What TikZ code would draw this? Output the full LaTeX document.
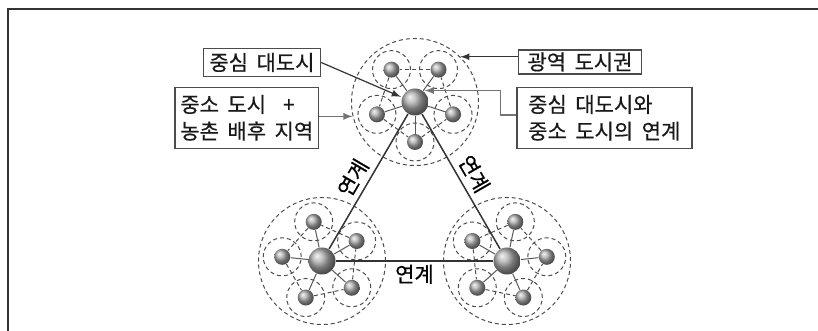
\documentclass[tikz,border=0pt]{standalone}
\usepackage{fontspec}
\setmainfont{Noto Sans CJK KR}[WordSpace=1.8, FakeBold=0.6]
\usetikzlibrary{arrows,calc,shadings}
\tikzstyle{notebox} = [rectangle, draw=black!70, line width=0.7pt, text=black!90, inner sep=1pt, align=left]
\tikzstyle{hub} = [circle, minimum size=13.5pt, inner sep=0pt, shading=ball, ball color=gray!65]
\tikzstyle{town} = [circle, minimum size=8pt, inner sep=0pt, shading=ball, ball color=gray!65]
\tikzstyle{zone} = [dash pattern=on 2pt off 1.5pt, line width=0.5pt, draw=black!70]
\tikzstyle{spoke} = [line width=0.5pt, draw=black!65]
\tikzstyle{link} = [line width=0.75pt, draw=black!80]

% one metropolitan region: hub, five towns, their zones
\newcommand{\metroregion}[4]{%
  \node[hub] (#1) at (#2,#3) {};
  \draw[zone] (#1) circle (63.5);
  \foreach \k in {1,...,5} {
    \node[town] (#1\k) at ($(#1)+(#4+72*\k:40)$) {};
    \draw[zone] (#1\k) circle (19);
  }
  \foreach \k in {1,...,5} {
    \pgfmathtruncatemacro\nxt{mod(\k,5)+1}
    \draw[zone] (#1\k) -- (#1\nxt);
    \draw[spoke] (#1) -- (#1\k);
  }
}

\begin{document}
\begin{tikzpicture}[x=0.5pt,y=0.5pt,font=\fontsize{10.5}{13.35}\selectfont]
    \useasboundingbox (0,0) rectangle (818,331);
    \clip (0,0) rectangle (818,331);
    \draw[line width=1pt, black!80] (8,322) rectangle (840,-20);

    \metroregion{T}{415}{229}{-18}
    \metroregion{L}{322}{70}{-42}
    \metroregion{R}{507}{70}{-66}

    \draw[link] (L) -- node[sloped, above, inner sep=2.5pt, pos=0.47] {연계} (T);
    \draw[link] (T) -- node[sloped, above, inner sep=2.5pt, pos=0.5] {연계} (R);
    \draw[link] (L) -- node[below, inner sep=1.5pt] {연계} (R);

    \node[notebox, minimum width=58.5pt, minimum height=14.2pt] (hubbox) at (262,268.5) {중심 대도시};
    \node[notebox, minimum width=61.5pt, minimum height=12pt] (metrobox) at (580,269) {광역 도시권};
    \node[notebox, minimum width=71.8pt, minimum height=30.5pt] (townbox) at (246.8,213.2) {중소 도시 \ +\\농촌 배후 지역};
    \node[notebox, minimum width=87.5pt, minimum height=30.5pt] (linkbox) at (604.3,213.2) {중심 대도시와\\중소 도시의 연계};

    \coordinate (metrotip) at ($(T)+(45:64)$);
    \coordinate (towntip) at ($(T)+(193:64)$);
    \coordinate (linktip) at ($(T)+(50:15)$);
    \coordinate (hubtip) at ($(T)+(160:15)$);
    \begin{scope}[-latex, line width=0.6pt]
        \draw[black!80] (hubbox.east) -- (hubtip);
        \draw[black!80] (metrobox.west |- metrotip) -- (metrotip);
        \draw[black!55] (townbox.east |- towntip) -- (towntip);
        \draw[black!55] ([yshift=1.4pt]linkbox.west) -- ++(-16,0) |- (linktip);
    \end{scope}
\end{tikzpicture}
\end{document}
